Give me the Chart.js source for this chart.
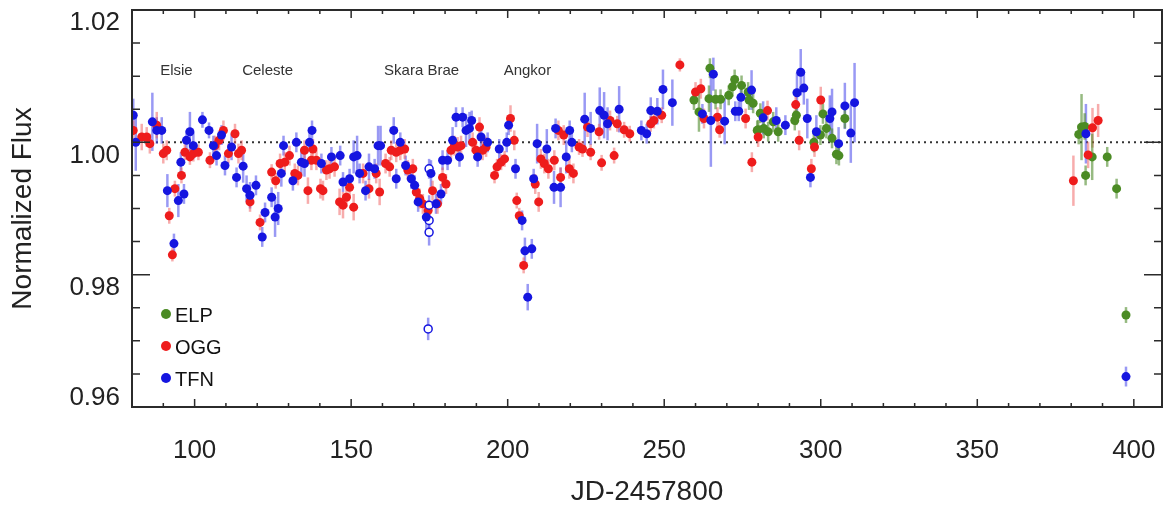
<!DOCTYPE html>
<html>
<head>
<meta charset="utf-8">
<script src="https://cdn.jsdelivr.net/npm/chart.js@4.4.0/dist/chart.umd.min.js"></script>
<style>
	html, body { margin: 0; padding: 0; background: #fff; }
	#wrap { width: 1164px; height: 506px; }
</style>
</head>
<body>
<div id="wrap"><canvas id="fluxChart" width="1164" height="506"></canvas></div>
<script>
// --- Data ---

// TFN (blue, filled)
const tfnX = [80.4, 81.2, 86.5, 87.9, 89.5, 91.3, 93.4, 94.8, 95.6, 96.6, 97.4, 98.5, 99.6, 102.5, 104.6, 106.0, 107.0, 108.6, 109.7, 111.8,
	113.4, 115.5, 116.6, 117.7, 119.6, 121.6, 122.5, 124.6, 125.7, 126.7, 127.7, 128.4, 131.4, 132.5, 134.1, 135.1, 136.7, 137.5, 140.5, 143.7,
	146.5, 147.4, 149.5, 150.8, 151.9, 152.7, 154.6, 155.7, 157.5, 158.6, 159.4, 163.6, 164.4, 165.7, 167.4, 169.2, 170.3, 171.4, 174.0, 175.5,
	177.1, 178.7, 179.2, 180.8, 182.4, 183.5, 184.6, 185.6, 186.7, 187.8, 188.5, 190.4, 191.5, 193.6, 197.3, 199.7, 200.3, 202.5, 204.6, 205.5,
	206.4, 207.7, 208.3, 209.4, 212.5, 214.8, 215.3, 216.9, 218.7, 219.8, 220.5, 224.6, 226.5, 229.4, 230.8, 231.9, 235.6, 242.7, 244.4, 245.7,
	247.8, 249.6, 252.6, 262.2, 264.9, 265.7, 269.3, 272.7, 273.8, 274.5, 277.9, 281.6, 285.8, 288.7, 292.4, 293.6, 294.6, 295.7, 296.7, 298.6,
	302.9, 303.6, 305.7, 307.7, 309.6, 310.8, 384.7, 397.5];
const tfnY = [1.0041, 1.0000, 1.0031, 1.0018, 1.0018, 0.9927, 0.9847, 0.9912, 0.9970, 0.9922, 1.0003, 1.0016, 0.9995, 1.0034, 1.0018, 0.9995, 0.9980, 1.0011, 0.9965, 0.9993,
	0.9947, 0.9964, 0.9930, 0.9920, 0.9935, 0.9857, 0.9894, 0.9917, 0.9887, 0.9900, 0.9953, 0.9995, 0.9942, 1.0000, 0.9970, 0.9968, 1.0000, 1.0018, 0.9968, 0.9978,
	0.9980, 0.9940, 0.9945, 0.9978, 0.9980, 0.9953, 0.9927, 0.9963, 0.9960, 0.9995, 0.9995, 1.0018, 0.9945, 1.0000, 0.9965, 0.9945, 0.9935, 0.9910, 0.9887, 0.9953,
	0.9907, 0.9922, 0.9973, 0.9973, 1.0003, 1.0038, 0.9978, 1.0038, 1.0018, 1.0021, 1.0033, 0.9978, 1.0008, 1.0000, 0.9990, 1.0000, 1.0026, 0.9960, 0.9882, 0.9836,
	0.9766, 0.9839, 0.9945, 0.9998, 0.9990, 0.9932, 1.0021, 0.9932, 0.9978, 1.0018, 1.0000, 1.0035, 1.0021, 1.0048, 1.0041, 1.0028, 1.0050, 1.0018, 1.0013, 1.0048,
	1.0047, 1.0080, 1.0060, 1.0043, 1.0033, 1.0103, 1.0032, 1.0047, 1.0047, 1.0068, 1.0079, 1.0037, 1.0033, 1.0026, 1.0075, 1.0106, 1.0082, 1.0036, 0.9947, 1.0016,
	1.0036, 1.0046, 0.9998, 1.0055, 1.0014, 1.0060, 1.0013, 0.9646];
const tfnErr = [0.0025, 0.0043, 0.0044, 0.0020, 0.0020, 0.0025, 0.0015, 0.0025, 0.0015, 0.0015, 0.0015, 0.0030, 0.0020, 0.0012, 0.0012, 0.0015, 0.0015, 0.0015, 0.0015, 0.0020,
	0.0015, 0.0025, 0.0020, 0.0020, 0.0015, 0.0015, 0.0015, 0.0015, 0.0030, 0.0025, 0.0020, 0.0015, 0.0015, 0.0015, 0.0020, 0.0020, 0.0015, 0.0015, 0.0015, 0.0015,
	0.0015, 0.0015, 0.0015, 0.0025, 0.0030, 0.0015, 0.0015, 0.0020, 0.0015, 0.0030, 0.0030, 0.0020, 0.0015, 0.0015, 0.0015, 0.0015, 0.0015, 0.0015, 0.0020, 0.0020,
	0.0015, 0.0015, 0.0015, 0.0015, 0.0020, 0.0015, 0.0015, 0.0015, 0.0025, 0.0025, 0.0015, 0.0015, 0.0015, 0.0015, 0.0015, 0.0015, 0.0015, 0.0015, 0.0015, 0.0020,
	0.0020, 0.0015, 0.0015, 0.0030, 0.0030, 0.0025, 0.0015, 0.0030, 0.0025, 0.0015, 0.0015, 0.0040, 0.0025, 0.0035, 0.0035, 0.0025, 0.0035, 0.0015, 0.0015, 0.0020,
	0.0020, 0.0030, 0.0035, 0.0015, 0.0070, 0.0025, 0.0035, 0.0015, 0.0015, 0.0020, 0.0030, 0.0025, 0.0020, 0.0015, 0.0030, 0.0035, 0.0025, 0.0030, 0.0015, 0.0025,
	0.0035, 0.0035, 0.0025, 0.0035, 0.0045, 0.0060, 0.0045, 0.0015];

// TFN (blue, open symbols)
const tfnOpenX = [174.9, 174.9, 174.9, 174.9, 174.6];
const tfnOpenY = [0.9960, 0.9905, 0.9882, 0.9864, 0.9718];
const tfnOpenErr = [0.0015, 0.0015, 0.0015, 0.0020, 0.0017];

// OGG (red)
const oggX = [80.4, 83.1, 84.7, 85.7, 87.9, 90.0, 91.1, 91.9, 92.9, 93.7, 95.8, 96.9, 98.5, 99.6, 101.2, 104.9, 106.5, 107.8, 109.2, 110.8,
	112.9, 114.0, 115.0, 117.7, 120.9, 124.6, 125.9, 127.3, 128.8, 130.3, 132.0, 133.0, 135.1, 136.2, 137.3, 137.8, 138.9, 140.2, 141.0, 142.1,
	143.1, 144.7, 146.3, 147.4, 148.5, 149.5, 150.8, 153.8, 155.7, 158.0, 159.1, 161.0, 162.3, 162.8, 164.4, 165.7, 167.1, 168.1, 169.7, 170.8,
	171.9, 172.9, 174.6, 176.0, 177.6, 179.2, 180.3, 181.9, 183.0, 184.0, 185.1, 188.8, 189.9, 191.0, 192.0, 193.1, 195.8, 196.6, 197.9, 199.0,
	200.9, 202.1, 202.9, 203.7, 205.1, 208.8, 209.9, 210.6, 211.7, 213.0, 214.9, 216.2, 216.9, 217.9, 219.7, 221.0, 222.8, 223.9, 225.5, 226.5,
	229.2, 230.0, 232.7, 234.0, 235.0, 237.2, 239.0, 245.7, 246.7, 249.2, 255.0, 260.0, 261.7, 262.7, 267.0, 267.7, 276.0, 278.0, 280.0, 283.0,
	292.0, 293.1, 297.0, 298.0, 300.0, 380.7, 385.4, 386.8, 388.6];
const oggY = [1.0018, 1.0008, 1.0008, 0.9998, 1.0026, 0.9983, 0.9988, 0.9889, 0.9830, 0.9930, 0.9950, 0.9985, 0.9978, 0.9983, 0.9985, 0.9973, 0.9995, 1.0003, 1.0018, 0.9983,
	1.0013, 0.9983, 0.9988, 0.9910, 0.9879, 0.9955, 0.9942, 0.9968, 0.9970, 0.9980, 0.9953, 0.9950, 0.9988, 0.9927, 0.9973, 0.9990, 0.9973, 0.9930, 0.9927, 0.9958,
	0.9960, 0.9963, 0.9910, 0.9905, 0.9917, 0.9932, 0.9902, 0.9953, 0.9930, 0.9953, 0.9925, 0.9968, 0.9963, 0.9988, 0.9985, 0.9988, 0.9990, 0.9958, 0.9960, 0.9925,
	0.9915, 0.9907, 0.9897, 0.9927, 0.9907, 0.9947, 0.9937, 0.9988, 0.9995, 0.9993, 0.9995, 1.0000, 0.9988, 1.0023, 0.9988, 0.9993, 0.9950, 0.9963, 0.9970, 0.9975,
	1.0036, 1.0003, 0.9912, 0.9889, 0.9814, 0.9937, 0.9910, 0.9975, 0.9968, 0.9960, 0.9973, 1.0018, 0.9947, 1.0011, 0.9960, 0.9953, 0.9993, 0.9990, 1.0023, 0.9985,
	1.0016, 0.9969, 1.0033, 0.9980, 1.0028, 1.0019, 1.0013, 1.0028, 1.0033, 1.0041, 1.0117, 1.0076, 1.0081, 1.0036, 1.0038, 1.0019, 1.0036, 0.9970, 1.0008, 1.0048,
	1.0057, 1.0003, 0.9960, 0.9993, 1.0064, 0.9942, 0.9981, 1.0022, 1.0033];
const oggErr = [0.0015, 0.0020, 0.0015, 0.0015, 0.0020, 0.0015, 0.0015, 0.0012, 0.0010, 0.0012, 0.0012, 0.0012, 0.0012, 0.0012, 0.0012, 0.0012, 0.0015, 0.0015, 0.0015, 0.0015,
	0.0015, 0.0015, 0.0015, 0.0015, 0.0012, 0.0012, 0.0012, 0.0015, 0.0015, 0.0015, 0.0015, 0.0015, 0.0015, 0.0020, 0.0015, 0.0015, 0.0015, 0.0015, 0.0015, 0.0015,
	0.0015, 0.0015, 0.0020, 0.0020, 0.0015, 0.0015, 0.0020, 0.0015, 0.0015, 0.0015, 0.0020, 0.0015, 0.0015, 0.0015, 0.0015, 0.0015, 0.0015, 0.0015, 0.0015, 0.0015,
	0.0015, 0.0015, 0.0015, 0.0015, 0.0015, 0.0015, 0.0015, 0.0015, 0.0015, 0.0015, 0.0015, 0.0015, 0.0015, 0.0015, 0.0015, 0.0015, 0.0012, 0.0012, 0.0012, 0.0012,
	0.0020, 0.0015, 0.0012, 0.0012, 0.0012, 0.0015, 0.0015, 0.0015, 0.0015, 0.0015, 0.0015, 0.0015, 0.0015, 0.0015, 0.0015, 0.0015, 0.0012, 0.0012, 0.0015, 0.0012,
	0.0012, 0.0012, 0.0015, 0.0012, 0.0012, 0.0012, 0.0012, 0.0012, 0.0012, 0.0012, 0.0010, 0.0015, 0.0015, 0.0015, 0.0015, 0.0012, 0.0015, 0.0015, 0.0015, 0.0015,
	0.0015, 0.0015, 0.0015, 0.0015, 0.0020, 0.0038, 0.0020, 0.0030, 0.0025];

// ELP (green)
const elpX = [259.5, 261.1, 264.3, 264.6, 266.4, 268.0, 270.6, 271.8, 272.5, 274.7, 276.8, 277.1, 278.4, 279.7, 280.0, 280.7, 281.8, 283.2, 284.8, 286.4,
	291.7, 292.2, 297.8, 299.9, 300.7, 301.8, 303.6, 305.0, 305.8, 307.7, 382.4, 383.3, 384.3, 384.6, 386.7, 391.5, 394.5, 397.5];
const elpY = [1.0064, 1.0046, 1.0066, 1.0112, 1.0065, 1.0065, 1.0071, 1.0084, 1.0095, 1.0086, 1.0076, 1.0064, 1.0059, 1.0018, 1.0019, 1.0044, 1.0021, 1.0016, 1.0031, 1.0016,
	1.0033, 1.0041, 1.0000, 1.0011, 1.0043, 1.0021, 1.0006, 0.9982, 0.9980, 1.0036, 1.0012, 1.0023, 1.0024, 0.9950, 0.9978, 0.9978, 0.9930, 0.9739];
const elpErr = [0.0015, 0.0030, 0.0020, 0.0015, 0.0015, 0.0015, 0.0015, 0.0015, 0.0015, 0.0015, 0.0015, 0.0015, 0.0015, 0.0015, 0.0015, 0.0015, 0.0015, 0.0015, 0.0015, 0.0015,
	0.0015, 0.0015, 0.0015, 0.0015, 0.0015, 0.0015, 0.0015, 0.0015, 0.0015, 0.0015, 0.0015, 0.0050, 0.0020, 0.0015, 0.0035, 0.0015, 0.0015, 0.0012];

// Axis ticks
const xTicks = [100, 150, 200, 250, 300, 350, 400];
const yTicks = [0.96, 0.98, 1.00, 1.02];

// Event labels along the top
const eventNames = ['Elsie', 'Celeste', 'Skara Brae', 'Angkor'];
const eventX = [94.2, 123.3, 172.5, 206.3];
const eventY = 1.0108;

// --- Helpers ---
const FONT = '"Liberation Sans", Arial, Helvetica, sans-serif';
const AXIS = '#2b2b2b';

const toPoints = (xs, ys, errs) => xs.map((x, i) => ({ x, y: ys[i], err: errs[i] }));

// error bars drawn under the symbols
const errorBars = {
	id: 'errorBars',
	beforeDatasetsDraw(chart) {
		const { ctx, chartArea: a, scales: { x, y } } = chart;
		ctx.save();
		ctx.beginPath();
		ctx.rect(a.left, a.top, a.width, a.height);
		ctx.clip();

		// dotted reference line at unity
		ctx.strokeStyle = '#333';
		ctx.lineWidth = 2;
		ctx.setLineDash([2, 4]);
		ctx.beginPath();
		ctx.moveTo(a.left, y.getPixelForValue(1));
		ctx.lineTo(a.right, y.getPixelForValue(1));
		ctx.stroke();
		ctx.setLineDash([]);

		chart.data.datasets.forEach(ds => {
			ctx.strokeStyle = ds.errColor;
			ctx.lineWidth = 2.5;
			ds.data.forEach(p => {
				const px = x.getPixelForValue(p.x);
				ctx.beginPath();
				ctx.moveTo(px, y.getPixelForValue(p.y - p.err));
				ctx.lineTo(px, y.getPixelForValue(p.y + p.err));
				ctx.stroke();
			});
		});
		ctx.restore();
	}
};

// IDL-style frame with inward ticks, y labels, event names and legend
const frame = {
	id: 'frame',
	afterDraw(chart) {
		const { ctx, chartArea: a, scales: { x, y } } = chart;
		ctx.save();
		ctx.strokeStyle = AXIS;
		ctx.lineWidth = 2;
		ctx.strokeRect(a.left, a.top, a.width, a.height);

		ctx.lineWidth = 1.5;
		ctx.beginPath();
		for (let v = 80; v <= x.max; v += 10) {
			const px = x.getPixelForValue(v);
			const len = v % 50 === 0 ? 8 : 4;
			ctx.moveTo(px, a.bottom); ctx.lineTo(px, a.bottom - len);
			ctx.moveTo(px, a.top); ctx.lineTo(px, a.top + len);
		}
		for (let k = 0; k <= 12; k++) {
			const v = 0.96 + k * 0.005;
			const py = y.getPixelForValue(v);
			const len = k % 4 === 0 ? 18 : 8;
			ctx.moveTo(a.left, py); ctx.lineTo(a.left + len, py);
			ctx.moveTo(a.right, py); ctx.lineTo(a.right - len, py);
		}
		ctx.stroke();

		// y tick labels (top of text sits on the tick, kept inside the frame)
		ctx.fillStyle = '#222';
		ctx.font = '26px ' + FONT;
		ctx.textAlign = 'right';
		ctx.textBaseline = 'middle';
		yTicks.forEach(v => {
			const py = Math.min(y.getPixelForValue(v) + 13, a.bottom - 9);
			ctx.fillText(v.toFixed(2), a.left - 12, py);
		});

		// event names
		ctx.font = '15px ' + FONT;
		ctx.textAlign = 'center';
		ctx.fillStyle = '#333';
		eventNames.forEach((name, i) => {
			ctx.fillText(name, x.getPixelForValue(eventX[i]), y.getPixelForValue(eventY));
		});

		// legend
		ctx.font = '20px ' + FONT;
		ctx.textAlign = 'left';
		const order = ['ELP', 'OGG', 'TFN'];
		order.forEach((label, i) => {
			const ds = chart.data.datasets.find(d => d.label === label);
			const cy = a.bottom - 93 + i * 32;
			ctx.fillStyle = ds.backgroundColor;
			ctx.beginPath();
			ctx.arc(a.left + 34, cy, 5, 0, Math.PI * 2);
			ctx.fill();
			ctx.fillStyle = '#111';
			ctx.fillText(label, a.left + 43, cy + 2);
		});
		ctx.restore();
	}
};

new Chart(document.getElementById('fluxChart'), {
	type: 'scatter',
	data: {
		datasets: [
			{
				label: 'TFN',
				data: toPoints(tfnX, tfnY, tfnErr),
				backgroundColor: '#1515e0',
				borderColor: '#1515e0',
				errColor: 'rgba(70, 70, 235, 0.55)',
				pointRadius: 4.5,
				borderWidth: 0
			},
			{
				label: 'TFN open',
				data: toPoints(tfnOpenX, tfnOpenY, tfnOpenErr),
				backgroundColor: '#ffffff',
				borderColor: '#1515e0',
				errColor: 'rgba(70, 70, 235, 0.55)',
				pointRadius: 4,
				borderWidth: 1.5
			},
			{
				label: 'OGG',
				data: toPoints(oggX, oggY, oggErr),
				backgroundColor: '#ee1c1c',
				borderColor: '#ee1c1c',
				errColor: 'rgba(240, 90, 90, 0.5)',
				pointRadius: 4.5,
				borderWidth: 0
			},
			{
				label: 'ELP',
				data: toPoints(elpX, elpY, elpErr),
				backgroundColor: '#4b8b24',
				borderColor: '#4b8b24',
				errColor: 'rgba(80, 140, 45, 0.6)',
				pointRadius: 4.5,
				borderWidth: 0
			}
		]
	},
	options: {
		responsive: false,
		animation: false,
		events: [],
		layout: { autoPadding: false, padding: { top: 10, right: 2, left: 0, bottom: 0 } },
		plugins: { legend: { display: false }, tooltip: { enabled: false } },
		scales: {
			x: {
				type: 'linear',
				min: 80,
				max: 409,
				grid: { display: false, drawTicks: false },
				border: { display: false },
				afterBuildTicks: scale => { scale.ticks = xTicks.map(v => ({ value: v })); },
				afterFit: scale => {
					scale.height = 99;
					scale.paddingLeft = 0;
					scale.paddingRight = 0;
				},
				ticks: {
					color: '#222',
					padding: 28,
					maxRotation: 0,
					font: { family: FONT, size: 26 },
					callback: v => String(v)
				},
				title: {
					display: true,
					text: 'JD-2457800',
					color: '#222',
					font: { family: FONT, size: 28, lineHeight: 1 },
					padding: { top: 0, bottom: 0 }
				}
			},
			y: {
				type: 'linear',
				min: 0.96,
				max: 1.02,
				grid: { display: false, drawTicks: false },
				border: { display: false },
				afterBuildTicks: scale => { scale.ticks = yTicks.map(v => ({ value: v })); },
				afterFit: scale => {
					scale.width = 132;
					scale.paddingTop = 0;
					scale.paddingBottom = 0;
				},
				ticks: { display: false },
				title: {
					display: true,
					text: 'Normalized Flux',
					color: '#222',
					font: { family: FONT, size: 28, lineHeight: 1 },
					padding: { top: 9, bottom: 0 }
				}
			}
		}
	},
	plugins: [errorBars, frame]
});
</script>
</body>
</html>
